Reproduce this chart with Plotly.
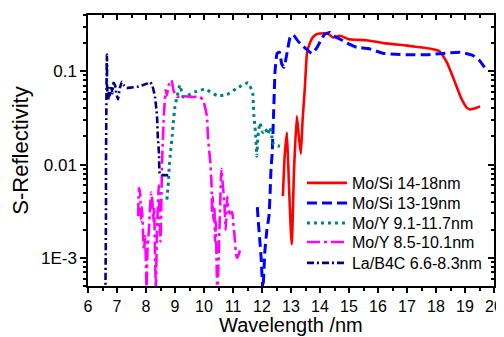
import math
import plotly.graph_objects as go

# ---------------- data ----------------
mosi1418_x = [12.72, 12.78, 12.86, 12.93, 13.0, 13.03, 13.1, 13.2, 13.27, 13.34, 13.4, 13.48, 13.55,
              13.65, 13.75, 13.9, 14.0, 14.15, 14.28, 14.45, 14.7, 15.0, 15.6, 16.2, 17.0, 17.6,
              17.9, 18.1, 18.25, 18.4, 18.55, 18.7, 18.85, 18.95, 19.05, 19.17, 19.35, 19.52]
mosi1418_y = [0.0046, 0.012, 0.022, 0.006, 0.0018, 0.0014, 0.008, 0.033, 0.02, 0.013, 0.03, 0.068, 0.155,
              0.2, 0.23, 0.25, 0.253, 0.255, 0.252, 0.23, 0.24, 0.22, 0.215, 0.2, 0.188, 0.178,
              0.172, 0.165, 0.145, 0.12, 0.092, 0.07, 0.053, 0.046, 0.041, 0.039, 0.04, 0.042]

mosi1319_x = [11.84, 11.87, 11.92, 11.97, 12.03, 12.1, 12.17, 12.24, 12.28, 12.31, 12.35, 12.4, 12.45,
              12.52, 12.6, 12.68, 12.76, 12.86, 12.97, 13.08, 13.24, 13.38, 13.55, 13.72, 13.9, 14.05,
              14.17, 14.34, 14.45, 14.7, 14.93, 15.27, 15.66, 16.2, 16.6, 17.0, 17.7, 18.25, 18.83,
              19.28, 19.5, 19.7]
mosi1319_y = [0.0035, 0.0025, 0.0016, 0.001, 0.00045, 0.0012, 0.002, 0.0028, 0.005, 0.009, 0.013, 0.035, 0.1,
              0.155, 0.16, 0.12, 0.11, 0.155, 0.23, 0.245, 0.21, 0.19, 0.17, 0.155, 0.18, 0.22,
              0.25, 0.26, 0.24, 0.22, 0.2, 0.18, 0.175, 0.155, 0.152, 0.15, 0.15, 0.155, 0.16,
              0.147, 0.13, 0.107]

moy91117_x = [8.72, 8.75, 8.78, 8.8, 8.83, 8.86, 8.9, 8.93, 9.0, 9.07, 9.17, 9.28, 9.45, 9.69, 10.03,
              10.45, 10.79, 11.14, 11.52, 11.68, 11.7, 11.72, 11.75, 11.78, 11.8, 11.82, 11.86, 11.93,
              12.03, 12.12, 12.2, 12.28, 12.34, 12.4, 12.62]
moy91117_y = [0.0042, 0.0054, 0.007, 0.0095, 0.012, 0.015, 0.02, 0.026, 0.042, 0.053, 0.071, 0.053, 0.055,
              0.06, 0.064, 0.055, 0.056, 0.066, 0.075, 0.058, 0.045, 0.034, 0.027, 0.021, 0.016, 0.0123,
              0.02, 0.028, 0.022, 0.024, 0.021, 0.025, 0.02, 0.0165, 0.0157]

moy85101_x = [7.73, 7.76, 7.8, 7.83, 7.86, 7.9, 7.93, 7.97, 8.0, 8.02, 8.05, 8.1, 8.14, 8.18, 8.22, 8.25,
              8.28, 8.31, 8.34, 8.37, 8.4, 8.44, 8.47, 8.5, 8.53, 8.55, 8.57, 8.6, 8.63, 8.68, 8.72,
              8.78, 8.88, 8.95, 9.07, 9.3, 9.6, 9.86, 9.97, 10.1, 10.14, 10.18, 10.22, 10.26, 10.28,
              10.3, 10.33, 10.36, 10.38, 10.41, 10.43, 10.46, 10.55, 10.6, 10.65, 10.7, 10.75, 10.8,
              10.85, 10.9, 10.97, 11.02, 11.07, 11.1, 11.15, 11.24]
moy85101_y = [0.0028, 0.0056, 0.0048, 0.0025, 0.0035, 0.0018, 0.0012, 0.0017, 0.0008, 0.00045, 0.0012,
              0.002, 0.0035, 0.005, 0.004, 0.0025, 0.0035, 0.0012, 0.00045, 0.0015, 0.003, 0.006,
              0.0025, 0.0015, 0.004, 0.009, 0.015, 0.026, 0.04, 0.063, 0.055, 0.071, 0.08, 0.062,
              0.053, 0.054, 0.053, 0.053, 0.049, 0.033, 0.019, 0.014, 0.0105, 0.006, 0.003, 0.0045,
              0.0025, 0.0035, 0.0015, 0.0025, 0.001, 0.0004, 0.003, 0.009, 0.006, 0.004, 0.002, 0.0045,
              0.0032, 0.003, 0.0031, 0.0022, 0.0015, 0.0011, 0.001, 0.0012]

lab4c_x = [6.6, 6.61, 6.62, 6.62, 6.63, 6.64, 6.65, 6.66, 6.65, 6.67, 6.7, 6.73, 6.76, 6.8, 6.84, 6.88,
           6.93, 6.97, 7.03, 7.1, 7.17, 7.25, 7.33, 7.5, 7.7, 7.9, 8.05, 8.14, 8.22, 8.31, 8.38, 8.41,
           8.45, 8.48, 8.6, 8.83]
lab4c_y = [0.0004, 0.001, 0.003, 0.01, 0.03, 0.08, 0.15, 0.11, 0.08, 0.06, 0.05, 0.066, 0.055, 0.07, 0.058,
           0.075, 0.071, 0.06, 0.05, 0.066, 0.077, 0.07, 0.066, 0.067, 0.068, 0.071, 0.074, 0.077, 0.07,
           0.053, 0.033, 0.019, 0.013, 0.0078, 0.0077, 0.0077]

names = ["Mo/Si 14-18nm", "Mo/Si 13-19nm", "Mo/Y 9.1-11.7nm", "Mo/Y 8.5-10.1nm", "La/B4C 6.6-8.3nm"]

x_ticks = list(range(6, 21))
x_minor = [v + 0.5 for v in range(6, 20)]
y_ticks = [0.001, 0.01, 0.1]
y_ticktext = ["1E-3", "0.01", "0.1"]
y_minor = [m * 10.0 ** e for e in (-4, -3, -2, -1) for m in range(2, 10) if 5e-4 <= m * 10.0 ** e <= 0.4]

# ---------------- figure ----------------
# the page body keeps its default 8px margin, so the figure is sized to the remaining area
FONT = "Liberation Sans, Arial, Helvetica, sans-serif"
W, H = 496, 329
ML, MR, MT, MB = 80, 10, 7, 51
PH = H - MT - MB

series = [
    (mosi1418_x, mosi1418_y, dict(color="#FF0000", width=2.6, dash="solid")),
    (mosi1319_x, mosi1319_y, dict(color="#0000FF", width=3, dash="10px,5px")),
    (moy91117_x, moy91117_y, dict(color="#008080", width=3, dash="3px,4px")),
    (moy85101_x, moy85101_y, dict(color="#FF00FF", width=2.6, dash="13px,4px,3px,4px")),
    (lab4c_x, lab4c_y, dict(color="#000080", width=2.6, dash="7px,3px,2px,3px")),
]
legend_y = [0.380, 0.306, 0.232, 0.162, 0.085]

fig = go.Figure()
for i, ((xs, ys, ln), nm) in enumerate(zip(series, names)):
    lg = "legend" if i == 0 else f"legend{i+1}"
    fig.add_trace(go.Scatter(x=xs, y=ys, mode="lines", name=nm,
                             line=dict(**ln, shape="spline", smoothing=0.4), legend=lg))

# empty trace to host the mirrored (top/right) axes
fig.add_trace(go.Scatter(x=[], y=[], xaxis="x2", yaxis="y2", showlegend=False, hoverinfo="skip"))

xr = [6, 20]
yr = [math.log10(5e-4), math.log10(0.4)]

common_x = dict(range=xr, tickmode="array", tickvals=x_ticks, showgrid=False, zeroline=False,
                showline=True, linecolor="black", linewidth=1.5, tickcolor="black", tickwidth=1.5,
                ticklen=5, automargin=False,
                minor=dict(tickvals=x_minor, ticklen=3, tickcolor="black", tickwidth=1.5))
common_y = dict(type="log", range=yr, tickmode="array", tickvals=y_ticks, showgrid=False, zeroline=False,
                showline=True, linecolor="black", linewidth=1.5, tickcolor="black", tickwidth=1.5,
                ticklen=6, automargin=False,
                minor=dict(tickvals=y_minor, ticklen=3.5, tickcolor="black", tickwidth=1.5))

legends = {}
for i, ly in enumerate(legend_y):
    key = "legend" if i == 0 else f"legend{i+1}"
    legends[key] = dict(x=0.527, xanchor="left", y=ly, yanchor="middle", bgcolor="rgba(0,0,0,0)",
                        borderwidth=0, font=dict(family=FONT, size=16, color="black"),
                        itemwidth=40, tracegroupgap=0)

fig.update_layout(
    width=W, height=H,
    margin=dict(l=ML, r=MR, t=MT, b=MB, autoexpand=False),
    paper_bgcolor="white", plot_bgcolor="white",
    font=dict(family=FONT, color="black"),
    showlegend=True,
    xaxis=dict(**common_x, ticks="outside", ticktext=[str(v) for v in x_ticks],
               tickfont=dict(family=FONT, size=16)),
    yaxis=dict(**common_y, ticks="outside", ticktext=y_ticktext,
               tickfont=dict(family=FONT, size=17),
               title=dict(text="S-Reflectivity", font=dict(family=FONT, size=22), standoff=6)),
    xaxis2=dict(**common_x, ticks="inside", overlaying="x", side="top", showticklabels=False),
    yaxis2=dict(**common_y, ticks="inside", overlaying="y", side="right", showticklabels=False),
    annotations=[dict(text="Wavelength /nm", xref="paper", yref="paper", x=0.5,
                      y=-(MB - 0.5) / PH, xanchor="center", yanchor="bottom", showarrow=False,
                      borderpad=0, font=dict(family=FONT, size=20, color="black"))],
    **legends,
)
fig.update_layout(xaxis_minor_ticks="outside", yaxis_minor_ticks="outside",
                  xaxis2_minor_ticks="inside", yaxis2_minor_ticks="inside")

fig.write_html("out.html")
